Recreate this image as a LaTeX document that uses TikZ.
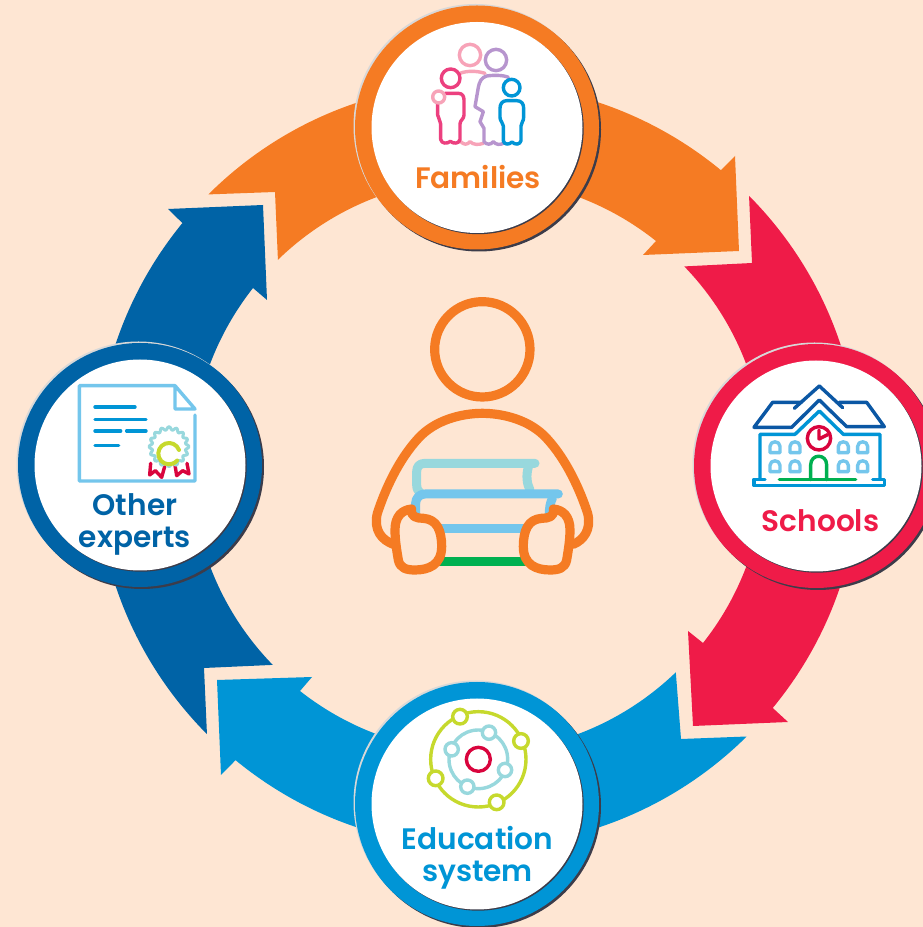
\documentclass[tikz,border=0pt]{standalone}
\usepackage{fontspec}
\setmainfont{Poppins}[UprightFont=* SemiBold,BoldFont=* Bold]
\definecolor{bg}{HTML}{FEE6D3}
\definecolor{corange}{HTML}{F57B23}
\definecolor{cred}{HTML}{EF1B48}
\definecolor{cblue}{HTML}{0095D6}
\definecolor{cdark}{HTML}{0063A6}
\definecolor{cshadow}{HTML}{3C3C4A}
\definecolor{cpale}{HTML}{D8D8D8}
\definecolor{ltblue}{HTML}{74C6EC}
\definecolor{teal}{HTML}{98D8DD}
\definecolor{cgreen}{HTML}{00B050}
\definecolor{lime}{HTML}{C6D92D}
\definecolor{crim}{HTML}{D9043D}
\definecolor{navy}{HTML}{0B57A4}
\definecolor{mum}{HTML}{F7A3B8}
\definecolor{lilac}{HTML}{B795CE}
\definecolor{kid}{HTML}{EC407F}
\tikzset{
  x=1pt,y=-1pt,
  band/.style={fill=#1,draw=none},
  hubring/.style={circle,fill=#1,draw=none,minimum size=244pt,inner sep=0pt},
  hubface/.style={circle,fill=white,draw=none,minimum size=211pt,inner sep=0pt},
  label/.style={text=#1,font=\fontsize{29.6}{31.5}\selectfont,align=center,inner sep=0pt},
  ic/.style={line cap=round,line join=round,draw=#1,fill=none},
  thick3/.style={line width=3.4pt},
  personline/.style={line width=9.2pt,line cap=round,line join=round,draw=corange}
}
\newcommand{\hub}[4]{% name, ring x, ring y, colour
  \fill[cpale] (#2-1.5,#3-1.5) circle[radius=122pt];
  \fill[cshadow] (#2+2,#3+2) circle[radius=122pt];
  \node[hubring=#4] (#1) at (#2,#3) {};
  \fill[cshadow] (#2+1.2,#3+1.2) circle[radius=105.5pt];
  \node[hubface] (#1face) at (#2,#3) {};
}
\begin{document}
\begin{tikzpicture}[yshift=927pt]
\useasboundingbox (0,0) rectangle (923,927);
\clip (0,0) rectangle (923,927);
\fill[bg] (0,0) rectangle (923,927);
\coordinate (c) at (478,465);

% ring bands
\path[band=corange] (c) ++(134.9:382pt) arc[start angle=134.9,end angle=50.5,radius=382pt]
  -- (735,156) -- (739,251) -- (643,255) -- (656,241)
  arc[start angle=51.5,end angle=134.2,radius=286.5pt]
  -- (275,192) -- cycle;
\path[band=cred] (c) ++(44.8:382pt) arc[start angle=44.8,end angle=-39.5,radius=382pt]
  -- (788,722) -- (693,726) -- (688,631) -- (703,643)
  arc[start angle=-38.3,end angle=44,radius=286.5pt]
  -- (752,263) -- cycle;
\path[band=cblue] (c) ++(-45.3:382pt) arc[start angle=-45.3,end angle=-129.4,radius=382pt]
  -- (221,775) -- (217,680) -- (312,677) -- (300,691)
  arc[start angle=-128.2,end angle=-46.1,radius=286.5pt]
  -- (681,739) -- cycle;
\path[band=cdark] (c) ++(-135.2:382pt) arc[start angle=-135.2,end angle=-219.3,radius=382pt]
  -- (168,209) -- (263,205) -- (267,300) -- (253,288)
  arc[start angle=-218.2,end angle=-135.8,radius=286.5pt]
  -- (204,668) -- cycle;

% hubs
\hub{families}{477}{127.5}{corange}
\hub{schools}{816}{466}{cred}
\hub{education}{477}{804}{cblue}
\hub{experts}{140}{465}{cdark}

% labels
\node[label=corange] (lfam) at (478,177) {Families};
\node[label=cred] (lsch) at (820.5,521) {Schools};
\node[label=cblue] (ledu) at (477.5,858) {Education\\system};
\node[label=cdark] (lexp) at (135,524.5) {Other\\experts};

% centre person
\begin{scope}[shift={(360,290)},scale=1/3]
  \draw[teal,line width=9pt,line cap=round,line join=round]
    (525,520) -- (195,520) .. controls (178,520) and (170,530) .. (170,545) -- (170,585) .. controls (170,597) and (175,604) .. (182,610);
  \draw[teal,line width=9pt,line cap=round] (505,532) .. controls (498,555) and (500,580) .. (510,600);
  \draw[ltblue,line width=9pt,line cap=round,line join=round]
    (595,612) -- (195,612) .. controls (178,612) and (167,625) .. (167,640) -- (167,672);
  \draw[ltblue,line width=9pt,line cap=round] (577,625) .. controls (570,640) and (568,655) .. (568,672);
  \draw[ltblue,line width=9pt] (240,715) -- (495,715);
  \draw[cgreen,line width=9pt] (235,816) -- (500,816);
  \draw[personline] (367,178) circle[radius=143];
  \draw[personline] (100,763) .. controls (65,750) and (40,720) .. (52,670)
    .. controls (75,600) and (115,510) .. (175,445)
    .. controls (225,390) and (305,370) .. (367,370)
    .. controls (430,370) and (510,390) .. (560,445)
    .. controls (620,510) and (660,600) .. (683,670)
    .. controls (695,720) and (670,750) .. (640,763);
  \draw[personline] (155,657) .. controls (125,660) and (105,680) .. (105,720)
    .. controls (105,750) and (110,780) .. (115,810)
    .. controls (120,835) and (140,840) .. (165,840)
    .. controls (205,840) and (245,825) .. (245,770)
    .. controls (245,720) and (230,688) .. (190,685)
    .. controls (170,685) and (150,680) .. (155,657);
  \draw[personline] (580,657) .. controls (610,660) and (630,680) .. (630,720)
    .. controls (630,750) and (625,780) .. (620,810)
    .. controls (615,835) and (595,840) .. (570,840)
    .. controls (530,840) and (490,825) .. (490,770)
    .. controls (490,720) and (505,688) .. (545,685)
    .. controls (565,685) and (585,680) .. (580,657);
\end{scope}

% families icon
\begin{scope}[shift={(340,0)},scale=1/3,thick3]
  \draw[ic=mum] (390,165) circle[radius=32];
  \draw[ic=mum] (360,220) .. controls (380,212) and (410,212) .. (435,220);
  \draw[ic=mum] (362,425) .. controls (372,435) and (382,435) .. (390,425) .. controls (400,435) and (415,435) .. (430,430);
  \draw[ic=lilac] (468,180) circle[radius=32];
  \draw[ic=lilac] (505,232) .. controls (490,225) and (460,225) .. (440,228)
    .. controls (425,232) and (418,245) .. (415,262) -- (405,320) -- (430,335)
    -- (420,365) -- (432,385) -- (432,425)
    .. controls (440,435) and (452,435) .. (460,425) .. controls (468,435) and (480,435) .. (490,430);
  \draw[ic=kid] (332,235) circle[radius=28];
  \draw[ic=kid] (315,280) -- (355,280) .. controls (368,280) and (372,290) .. (372,300) -- (372,345) .. controls (372,358) and (360,360) .. (360,372)
    -- (360,418) .. controls (358,432) and (340,432) .. (331,424) .. controls (322,432) and (304,432) .. (302,418)
    -- (302,372) .. controls (302,362) and (294,355) .. (293,345) -- (293,312);
  \draw[ic=mum] (296,291) circle[radius=18];
  \draw[ic=cblue] (515,263) circle[radius=25];
  \draw[ic=cblue] (500,302) -- (530,302) .. controls (545,302) and (551,312) .. (551,325) -- (551,352) .. controls (551,365) and (543,367) .. (543,378)
    -- (543,422) .. controls (540,435) and (525,435) .. (516,426) .. controls (507,435) and (492,435) .. (490,422)
    -- (490,378) .. controls (490,367) and (480,365) .. (480,352) -- (480,325) .. controls (480,312) and (487,302) .. (500,302);
\end{scope}

% schools icon
\begin{scope}[shift={(680,340)},scale=1/3,thick3]
  \foreach \wx/\wy in {285/305,345/305,490/305,548/305,285/362,345/362,490/362,548/362}{
    \draw[ic=ltblue] (\wx-15,\wy+33) -- (\wx-15,\wy+14) .. controls (\wx-15,\wy-4) and (\wx+15,\wy-4) .. (\wx+15,\wy+14) -- (\wx+15,\wy+33) -- cycle;
  }
  \draw[ic=navy] (343,205) -- (418,138) -- (488,203);
  \draw[ic=navy] (365,187) -- (278,187) -- (222,262) -- (335,262) -- (418,180) -- (500,260) -- (613,260) -- (560,187) -- (478,187);
  \draw[ic=cblue] (240,415) -- (240,283) -- (345,283) -- (418,213) -- (490,283) -- (600,283) -- (600,415);
  \draw[ic=cblue] (255,418) -- (222,418) -- (222,437) -- (613,437) -- (613,418) -- (578,418);
  \draw[ic=cgreen] (298,419) -- (527,419);
  \draw[ic=cgreen] (392,419) -- (392,375) .. controls (392,340) and (440,340) .. (440,375) -- (440,419);
  \draw[ic=crim] (417,295) circle[radius=35];
  \draw[ic=crim] (417,270) -- (417,297) -- (443,284);
\end{scope}

% education icon
\begin{scope}[shift={(345,670)},scale=1/3,thick3]
  \draw[ic=lime] (400,268) circle[radius=143];
  \draw[ic=teal] (400,268) circle[radius=88];
  \foreach \nx/\ny in {345/140,528/213,272/325,455/397}{
    \filldraw[draw=lime,fill=white] (\nx,\ny) circle[radius=22];
  }
  \foreach \nx/\ny in {432/188,320/238,480/300,367/350}{
    \filldraw[draw=teal,fill=white] (\nx,\ny) circle[radius=20];
  }
  \draw[ic=crim] (400,268) circle[radius=36];
\end{scope}

% experts icon
\begin{scope}[shift={(10,335)},scale=1/3,thick3]
  \draw[ic=ltblue] (555,240) -- (555,438) -- (208,438) -- (208,152) -- (495,152) -- (555,222) -- (495,222) -- (495,152);
  \foreach \ax/\ay/\bx in {255/216/375,255/254/408,255/288/332,350/288/408,255/331/326}{
    \draw[ic=cblue] (\ax,\ay) -- (\bx,\ay);
  }
  \draw[ic=crim] (422,385) -- (419,420) -- (436,407) -- (455,427) -- (464,395);
  \draw[ic=crim] (495,390) -- (500,422) -- (518,407) -- (537,417) -- (531,385);
  \filldraw[draw=teal,fill=white,line join=round,line width=3pt]
    plot[samples=97,domain=0:360] ({477+(55+5*cos(16*\x))*cos(\x)},{335+(55+5*cos(16*\x))*sin(\x)}) -- cycle;
  \draw[ic=lime,line width=4pt] (507,345) arc[start angle=-20,end angle=-320,radius=32];
\end{scope}
\end{tikzpicture}
\end{document}
